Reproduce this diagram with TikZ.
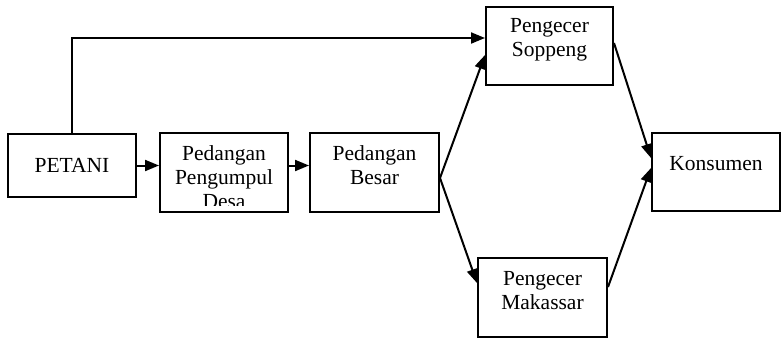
\documentclass[tikz,border=0pt]{standalone}
\usepackage{fontspec}
\setmainfont{Liberation Serif}
\usetikzlibrary{arrows.meta}
\begin{document}
\begin{tikzpicture}[x=1pt,y=-1pt,
  box/.style={draw, line width=2pt, inner sep=0pt},
  lbl/.style={align=center, inner sep=0pt, font=\fontsize{21.5}{24}\selectfont},
  conn/.style={line width=2pt, -{Triangle[length=14pt,width=11pt]}}]
\useasboundingbox (0,0) rectangle (781,338);
\node[box, minimum width=128pt, minimum height=63pt] (petani) at (72,165.5) {};
\node[box, minimum width=128pt, minimum height=79pt] (pengumpul) at (224,172.5) {};
\node[box, minimum width=129pt, minimum height=79pt] (besar) at (374.5,172.5) {};
\node[box, minimum width=127pt, minimum height=78pt] (soppeng) at (549.5,46) {};
\node[box, minimum width=129pt, minimum height=79pt] (makassar) at (542.5,297.5) {};
\node[box, minimum width=128pt, minimum height=78pt] (konsumen) at (716,172) {};
\node[lbl] (tpetani) at (petani) {PETANI};
\begin{scope}
\clip (160,133) rectangle (288,205.5);
\node[lbl] (tpengumpul) at (224,177) {Pedangan\\Pengumpul\\Desa};
\end{scope}
\node[lbl] (tbesar) at (374.5,165) {Pedangan\\Besar};
\node[lbl] (tsoppeng) at (549.5,40) {Pengecer\\Soppeng};
\node[lbl] (tmakassar) at (542.5,291) {Pengecer\\Makassar};
\node[lbl] (tkonsumen) at (716,164) {Konsumen};
\draw[conn] (petani.east) -- (pengumpul.west |- petani.east);
\draw[conn] (pengumpul.east |- petani.east) -- (besar.west |- petani.east);
\draw[conn] (petani.north) |- ([yshift=8pt]soppeng.west);
\draw[conn] ([yshift=-5.5pt]besar.east) -- ([yshift=-9pt]soppeng.west);
\draw[conn] ([yshift=-5.5pt]besar.east) -- ([yshift=14.5pt]makassar.west);
\draw[conn] ([yshift=3pt]soppeng.east) -- ([yshift=14pt]konsumen.west);
\draw[conn] ([yshift=10.5pt]makassar.east) -- ([yshift=4pt]konsumen.west);
\end{tikzpicture}
\end{document}
